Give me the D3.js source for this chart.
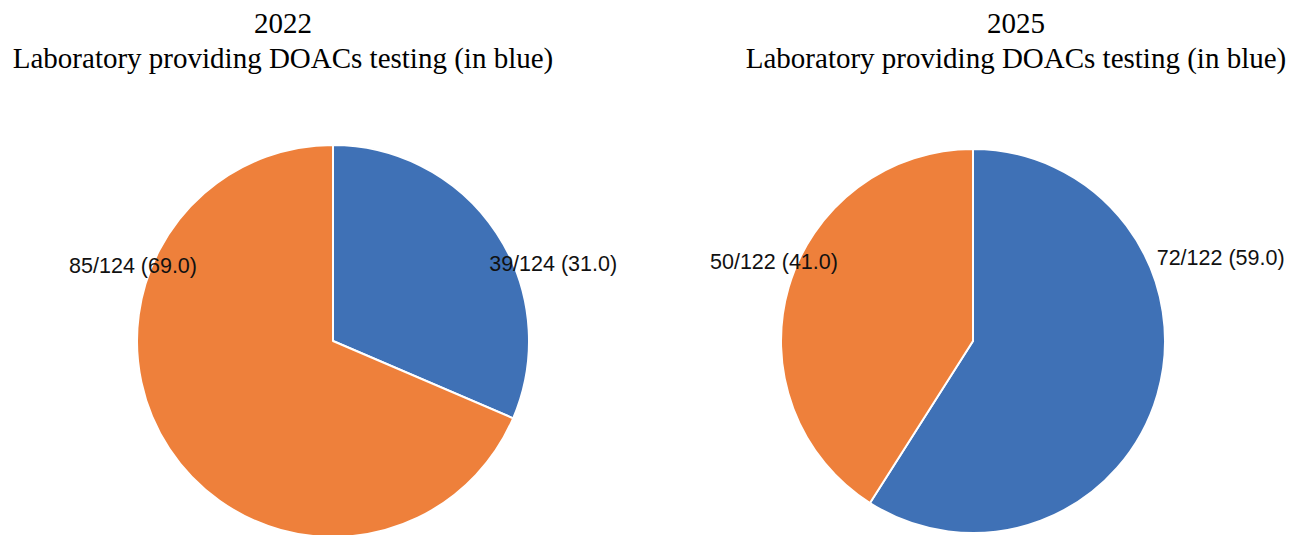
<!DOCTYPE html>
<html>
<head>
<meta charset="utf-8">
<script src="https://cdn.jsdelivr.net/npm/d3@7"></script>
<style>
html,body{margin:0;padding:0;background:#fff;}
svg{display:block;}
</style>
</head>
<body>
<svg id="chart" width="1297" height="535"></svg>
<script>
// ---- data ----
const years = ["2022", "2025"];
const subtitle = "Laboratory providing DOACs testing (in blue)";
const categories = ["Providing DOACs testing", "Not providing"];
const counts2022 = [39, 85];
const counts2025 = [72, 50];
const totals = [124, 122];
const pct2022 = ["31.0", "69.0"];
const pct2025 = ["59.0", "41.0"];

// ---- layout ----
const colors = ["#3F71B6", "#EE803B"];
const panels = [
  {cx: 333, cy: 341, r: 196, titleX: 283, labelPos: [{ang: 70.7, k: 1.19}, {ang: 290.6, k: 1.09}]},
  {cx: 973, cy: 341, r: 192, titleX: 1016, labelPos: [{ang: 71.5, k: 1.36}, {ang: 291.6, k: 1.115}]}
];
const seriesCounts = [counts2022, counts2025];
const seriesPct = [pct2022, pct2025];

const svg = d3.select("#chart");
const pie = d3.pie().sort(null).value(d => d.v).startAngle(0).endAngle(2 * Math.PI);

panels.forEach((p, i) => {
  const g = svg.append("g");
  // titles
  g.append("text").attr("x", p.titleX).attr("y", 33).attr("text-anchor", "middle")
    .style("font-family", "'Liberation Serif','Times New Roman',serif").style("font-size", "29px")
    .attr("fill", "#000").text(years[i]);
  g.append("text").attr("x", p.titleX).attr("y", 68).attr("text-anchor", "middle")
    .style("font-family", "'Liberation Serif','Times New Roman',serif").style("font-size", "29px")
    .attr("fill", "#000").text(subtitle);

  const data = categories.map((c, j) => ({c, v: seriesCounts[i][j], pct: seriesPct[i][j], j}));
  const arcs = pie(data);
  const arc = d3.arc().innerRadius(0).outerRadius(p.r);
  const pg = g.append("g").attr("transform", `translate(${p.cx},${p.cy})`);
  pg.selectAll("path").data(arcs).join("path")
    .attr("d", arc)
    .attr("fill", d => colors[d.data.j])
    .attr("stroke", "#fff").attr("stroke-width", 2).attr("stroke-linejoin", "round");

  pg.selectAll("text.lbl").data(arcs).join("text").attr("class", "lbl")
    .each(function(d) {
      const lp = p.labelPos[d.data.j];
      const a = lp.ang * Math.PI / 180;
      const rr = p.r * lp.k;
      d3.select(this).attr("x", rr * Math.sin(a)).attr("y", -rr * Math.cos(a) + 7);
    })
    .attr("text-anchor", "middle")
    .style("font-family", "'Liberation Sans',Arial,sans-serif").style("font-size", "21.5px")
    .attr("fill", "#111")
    .text(d => `${d.data.v}/${totals[i]} (${d.data.pct})`);
});
</script>
</body>
</html>
